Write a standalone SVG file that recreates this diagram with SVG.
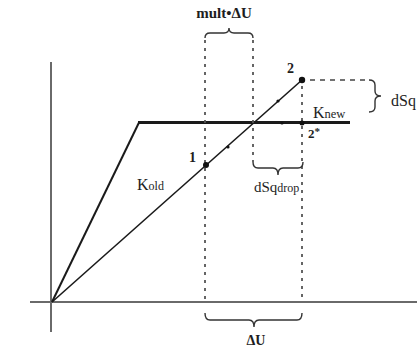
<svg xmlns="http://www.w3.org/2000/svg" width="417" height="347" viewBox="0 0 417 347">
<style>
.axis{stroke:#6a6a6a;stroke-width:2;fill:none}
.bil{stroke:#1a1a1a;fill:none;stroke-linejoin:miter}
.kold{stroke:#1a1a1a;stroke-width:1.6;fill:none}
.dash{stroke:#555;stroke-width:1.8;stroke-dasharray:3 5;fill:none}
.dash2{stroke:#444;stroke-width:1.3;stroke-dasharray:5 5;fill:none}
.brace{stroke:#333;stroke-width:1.4;fill:none}
.t{font-family:"Liberation Serif","Times New Roman",serif;fill:#1e1e1e}
.b{font-weight:bold}
.pt{fill:#111}
</style>
<rect width="417" height="347" fill="#fff"/>
<g id="axes">
<line class="axis" x1="51" y1="62" x2="51" y2="332"/>
<line class="axis" x1="30" y1="302" x2="417" y2="302"/>
</g>
<g id="connectors">
<path class="bil" stroke-width="2" d="M52,302 L139,122.5"/>
<path class="bil" stroke-width="3" d="M138,122.5 L350,122.5"/>
<line class="kold" x1="52" y1="302" x2="302" y2="80"/>
<line class="dash" x1="205" y1="40" x2="205" y2="301"/>
<line class="dash" x1="253" y1="40" x2="253" y2="162"/>
<line class="dash" x1="302" y1="86" x2="302" y2="301"/>
<line class="dash2" x1="310" y1="80" x2="366" y2="80"/>
<path class="brace" d="M205,38 Q205,33 210,33 L224,33 Q229,33 229,28 Q229,33 234,33 L248,33 Q253,33 253,38"/>
<path class="brace" d="M253,162 Q253,168 258,168 L273,168 Q278,168 278,175 Q278,168 283,168 L298,168 Q303,168 303,162"/>
<path class="brace" d="M205,313 Q205,320 210,320 L249,320 Q254,320 254,327 Q254,320 259,320 L297,320 Q302,320 302,313"/>
<path class="brace" d="M369,80 Q375,80 375,85 L375,91 Q375,96 381,96 Q375,96 375,101 L375,107 Q375,112 369,112"/>
</g>
<g id="point1">
<circle class="pt" cx="206" cy="165" r="3"/>
<text class="t b" x="189" y="162" font-size="14">1</text>
</g>
<g id="point2">
<circle class="pt" cx="302" cy="80" r="3.2"/>
<text class="t b" x="287" y="73" font-size="14">2</text>
</g>
<g id="point2star">
<circle class="pt" cx="302" cy="123" r="2.5"/>
<text class="t b" x="308" y="138" font-size="13">2<tspan font-size="11" dy="-3">*</tspan></text>
</g>
<g id="marks">
<circle class="pt" cx="228" cy="147" r="1.6"/>
<circle class="pt" cx="278" cy="101" r="1.6"/>
<circle class="pt" cx="282" cy="123" r="1.6"/>
</g>
<g id="labels">
<text class="t b" x="224" y="18" font-size="15" text-anchor="middle">mult•ΔU</text>
<text class="t" x="137" y="190" font-size="16">K<tspan font-size="12">old</tspan></text>
<text class="t" x="313" y="118" font-size="16">K<tspan font-size="12.5">new</tspan></text>
<text class="t" x="254" y="192" font-size="15">dSq<tspan font-size="12">drop</tspan></text>
<text class="t b" x="256" y="345" font-size="14" text-anchor="middle">ΔU</text>
<text class="t" x="391" y="106" font-size="16">dSq</text>
</g>
</svg>
